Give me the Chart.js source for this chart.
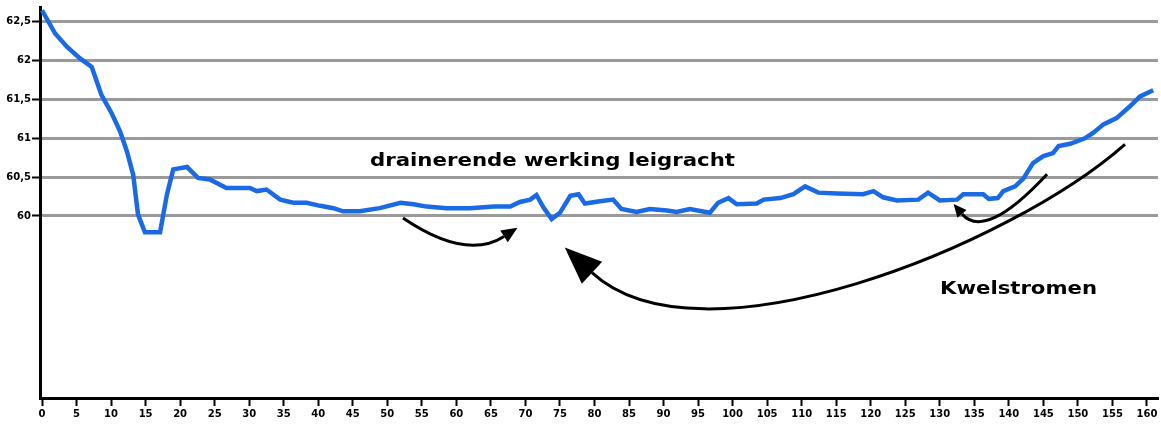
<!DOCTYPE html>
<html>
<head>
<meta charset="utf-8">
<script src="https://cdn.jsdelivr.net/npm/chart.js@4/dist/chart.umd.min.js"></script>
<style>
html,body{margin:0;padding:0;background:#fff}
#wrap{width:1161px;height:430px}
</style>
</head>
<body>
<div id="wrap"><canvas id="c"></canvas></div>
<script>
// afstand (km) en waterstand langs de leigracht
var km = [0, 1.9, 3.6, 5.5, 7.2, 8.6, 10.1, 11.3, 12.3, 13.2, 13.9, 14.9, 17.1, 18.1, 19.0, 21.0, 22.6, 24.3, 26.7, 30.1,
  31.1, 32.5, 34.5, 36.4, 38.3, 40.3, 42.2, 43.6, 46.0, 48.9, 51.9, 53.8, 55.7, 58.6, 62.0, 65.4, 67.8, 69.2, 70.7, 71.6,
  72.6, 73.8, 75.0, 76.5, 77.7, 78.6, 80.8, 82.7, 83.9, 86.1, 88.0, 90.5, 91.9, 93.8, 96.7, 97.9, 99.4, 100.6, 103.5, 104.5,
  106.9, 108.8, 110.5, 112.4, 115.1, 118.9, 120.4, 121.8, 123.8, 126.9, 128.3, 130.0, 132.5, 133.4, 136.3, 137.1, 138.4, 139.2, 140.9, 142.1,
  143.5, 145.0, 146.4, 147.2, 148.9, 151.0, 152.2, 153.7, 155.6, 157.5, 159.0, 160.9];
var level = [62.65, 62.35, 62.18, 62.03, 61.92, 61.56, 61.32, 61.09, 60.83, 60.53, 60.02, 59.79, 59.79, 60.28, 60.60, 60.63, 60.49, 60.47, 60.36, 60.36,
  60.32, 60.34, 60.21, 60.17, 60.17, 60.13, 60.10, 60.06, 60.06, 60.10, 60.17, 60.15, 60.12, 60.10, 60.10, 60.12, 60.12, 60.18, 60.21, 60.27,
  60.11, 59.96, 60.04, 60.26, 60.28, 60.16, 60.19, 60.21, 60.09, 60.05, 60.09, 60.07, 60.05, 60.09, 60.04, 60.17, 60.23, 60.15, 60.16, 60.21,
  60.23, 60.28, 60.38, 60.30, 60.29, 60.28, 60.32, 60.24, 60.20, 60.21, 60.30, 60.20, 60.21, 60.28, 60.28, 60.22, 60.23, 60.32, 60.38, 60.48,
  60.68, 60.77, 60.81, 60.90, 60.93, 61.00, 61.07, 61.18, 61.26, 61.41, 61.54, 61.62];

var xTicks = [0, 5, 10, 15, 20, 25, 30, 35, 40, 45, 50, 55, 60, 65, 70, 75, 80, 85, 90, 95, 100,
  105, 110, 115, 120, 125, 130, 135, 140, 145, 150, 155, 160];
var yTicks = [60, 60.5, 61, 61.5, 62, 62.5];
var yTickLabels = ["60", "60,5", "61", "61,5", "62", "62,5"];

var labelDrain = "drainerende werking leigracht";
var labelKwel = "Kwelstromen";

var points = [];
for (var i = 0; i < km.length; i++) points.push({x: km[i], y: level[i]});

// annotaties (tekst en pijlen) in data-eenheden
var notes = [
  {text: labelDrain, x: 73.92, y: 60.641, w: 365},
  {text: labelKwel, x: 141.4, y: 59.0, w: 157}
];
var arrows = [
  {pts: [[52.27, 59.974], [61.40, 59.423], [66.90, 59.736]], head: 16, half: 7},
  {pts: [[156.82, 60.923], [140.17, 59.615], [95.28, 57.987], [79.64, 59.269]], head: 37, half: 15},
  {pts: [[145.53, 60.538], [136.55, 59.679], [133.22, 60.026]], head: 13, half: 6}
];

var annotate = {
  id: "annotate",
  afterDatasetsDraw: function(chart) {
    var ctx = chart.ctx, sx = chart.scales.x, sy = chart.scales.y;
    ctx.save();
    ctx.fillStyle = "#000";
    ctx.strokeStyle = "#000";
    notes.forEach(function(n) {
      ctx.font = "bold 18px 'DejaVu Sans'";
      var m = ctx.measureText(n.text).width;
      ctx.save();
      ctx.translate(sx.getPixelForValue(n.x), sy.getPixelForValue(n.y));
      ctx.scale(n.w / m, 1);
      ctx.textAlign = "center";
      ctx.textBaseline = "alphabetic";
      ctx.fillText(n.text, 0, 0);
      ctx.restore();
    });
    arrows.forEach(function(a) {
      var p = a.pts.map(function(q) { return [sx.getPixelForValue(q[0]), sy.getPixelForValue(q[1])]; });
      ctx.lineWidth = 3;
      ctx.beginPath();
      ctx.moveTo(p[0][0], p[0][1]);
      if (p.length == 3) ctx.quadraticCurveTo(p[1][0], p[1][1], p[2][0], p[2][1]);
      else ctx.bezierCurveTo(p[1][0], p[1][1], p[2][0], p[2][1], p[3][0], p[3][1]);
      ctx.stroke();
      var e = p[p.length - 1], c = p[p.length - 2];
      var dx = e[0] - c[0], dy = e[1] - c[1], d = Math.sqrt(dx * dx + dy * dy);
      dx /= d; dy /= d;
      ctx.beginPath();
      ctx.moveTo(e[0] + dx * a.head, e[1] + dy * a.head);
      ctx.lineTo(e[0] - dy * a.half, e[1] + dx * a.half);
      ctx.lineTo(e[0] + dy * a.half, e[1] - dx * a.half);
      ctx.closePath();
      ctx.fill();
    });
    ctx.restore();
  }
};

var tickFont = {family: "'DejaVu Sans'", size: 10, weight: "bold"};

new Chart(document.getElementById("c"), {
  type: "scatter",
  data: {
    datasets: [{
      data: points,
      showLine: true,
      borderColor: "#1a6ae6",
      borderWidth: 4.5,
      pointRadius: 0,
      tension: 0,
      fill: false
    }]
  },
  options: {
    responsive: true,
    maintainAspectRatio: false,
    animation: false,
    layout: {padding: {top: 5, right: 3, left: 0, bottom: 0}},
    plugins: {legend: {display: false}, tooltip: {enabled: false}},
    scales: {
      x: {
        type: "linear",
        min: -0.29,
        max: 161.6,
        afterBuildTicks: function(s) { s.ticks = xTicks.map(function(v) { return {value: v}; }); },
        afterFit: function(s) { s.height = 32; },
        border: {color: "#000", width: 3},
        grid: {drawOnChartArea: false, tickColor: "#000", tickWidth: 2, tickLength: 8},
        ticks: {color: "#000", font: tickFont, padding: 2, maxRotation: 0, autoSkip: false,
          callback: function(v) { return String(v); }}
      },
      y: {
        min: 57.654,
        max: 62.692,
        afterBuildTicks: function(s) { s.ticks = yTicks.map(function(v) { return {value: v}; }); },
        afterFit: function(s) { s.width = 40; },
        border: {color: "#000", width: 3},
        grid: {color: "#9a9a9a", lineWidth: 3, tickColor: "#000", tickWidth: 2, tickLength: 8},
        ticks: {color: "#000", font: tickFont, padding: 1, autoSkip: false,
          callback: function(v) { var i = yTicks.indexOf(v); return i >= 0 ? yTickLabels[i] : ""; }}
      }
    }
  },
  plugins: [annotate]
});
</script>
</body>
</html>
